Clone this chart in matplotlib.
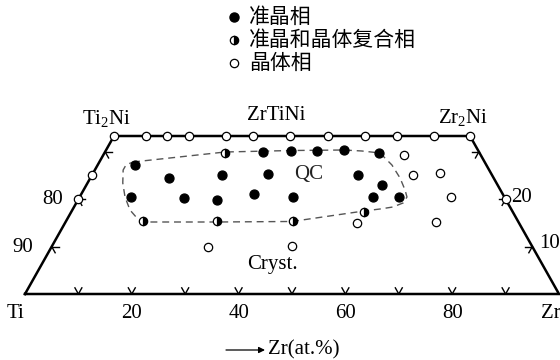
import numpy as np
import matplotlib
matplotlib.use("Agg")
import matplotlib.pyplot as plt

plt.rcParams['font.family'] = ['Liberation Serif', 'DejaVu Serif']
plt.rcParams['mathtext.fontset'] = 'custom'
plt.rcParams['mathtext.rm'] = 'Liberation Serif'

# ---- data: compositions (at.%), Zr and Ni; Ti = 100 - Zr - Ni ----
qc_zr = [7.0, 14.8, 24.3, 32.8, 29.6, 34.7, 9.7, 19.7, 26.0, 32.4, 39.9,
         39.6, 44.6, 51.5, 49.8, 55.4, 55.0, 59.8]
qc_ni = [27.2, 24.4, 25.2, 25.3, 30.0, 30.2, 20.4, 20.2, 19.8, 21.0, 20.5,
         30.2, 30.4, 29.7, 25.1, 23.0, 20.5, 20.4]

mix_zr = [22.6, 14.5, 28.3, 42.5, 54.8]
mix_ni = [29.8, 15.3, 15.3, 15.3, 17.4]

cr_zr = [0, 6, 10, 14, 21, 26, 33, 40, 47, 53, 60, 66.7,
         0, 0, 80,
         29.3, 44.9, 56.3, 60.2, 65.0, 69.5, 54.7, 69.5]
cr_ni = [33.3, 33.3, 33.3, 33.3, 33.3, 33.3, 33.3, 33.3, 33.3, 33.3, 33.3, 33.3,
         25.0, 20.0, 20.0,
         10.0, 10.1, 29.3, 25.1, 25.5, 20.5, 15.0, 15.1]

# QC region boundary (dashed)
qc_bound_zr = [6.3, 22.5, 34.7, 44.5, 48.0, 51.6, 55.1, 58.0, 60.2, 61.3, 61.2,
               59.7, 57.5, 54.7, 42.35, 28.4, 14.5, 12.95, 10.8, 8.5, 6.6, 5.3,
               5.3, 6.3]
qc_bound_ni = [27.85, 29.96, 30.27, 30.38, 30.17, 29.75, 27.22, 24.47, 21.94,
               20.46, 19.20, 18.35, 17.93, 17.51, 15.30, 15.19, 15.19, 16.03,
               17.72, 20.46, 23.42, 26.16, 27.22, 27.85]

# frame: Ti, Ti2Ni, Zr2Ni, Zr, back to Ti
frame_zr = [0, 0, 66.667, 100, 0]
frame_ni = [0, 33.333, 33.333, 0, 0]

base_ticks = [10, 20, 30, 40, 50, 60, 70, 80, 90]
side_ticks = [10, 20, 30]
base_labels = {0: 'Ti', 20: '20', 40: '40', 60: '60', 80: '80'}
left_labels = {10: '90', 20: '80'}
right_labels = {10: '10', 20: '20'}

legend_labels = ['准晶相', '准晶和晶体复合相', '晶体相']


def tern(zr, ni):
    zr = np.asarray(zr, float)
    ni = np.asarray(ni, float)
    return zr + ni / 2.0, ni


# pixel helper for placing annotations (positions only)
def px(x, y):
    return (x - 25) / 5.34, (294 - y) * 33.333 / 158


fig = plt.figure(figsize=(5.6, 3.6), dpi=100)
ax = fig.add_axes([0, 0, 1, 1])
x0, y0 = px(0, 360)
x1, y1 = px(560, 0)
ax.set_xlim(x0, x1)
ax.set_ylim(y0, y1)
ax.axis('off')

# frame
fx, fy = tern(frame_zr, frame_ni)
ax.plot(fx, fy, color='black', lw=1.8, solid_joinstyle='miter', zorder=2, clip_on=False)

# ticks
d = 1.3
for t in base_ticks:
    for zr2, ni2 in [(t, d), (t - d, d)]:
        xs, ys = tern([t, zr2], [0, ni2])
        ax.plot(xs, ys, color='black', lw=1.0, zorder=2)
for n in side_ticks:
    # left edge (Zr = 0)
    for zr2, ni2 in [(d, n), (d, n - d)]:
        xs, ys = tern([0, zr2], [n, ni2])
        ax.plot(xs, ys, color='black', lw=1.0, zorder=2)
    # right edge (Ti = 0)
    z = 100 - n
    for zr2, ni2 in [(z - d, n), (z, n - d)]:
        xs, ys = tern([z, zr2], [n, ni2])
        ax.plot(xs, ys, color='black', lw=1.0, zorder=2)

# QC boundary
bx, by = tern(qc_bound_zr, qc_bound_ni)
ax.plot(bx, by, color='#555555', lw=1.0, ls=(0, (5, 3.5)), zorder=3)

# points
x, y = tern(cr_zr, cr_ni)
ax.plot(x, y, 'o', ms=6, mfc='white', mec='black', mew=0.9, ls='none', zorder=4)
x, y = tern(mix_zr, mix_ni)
ax.plot(x, y, 'o', ms=6, fillstyle='right', mfc='black', mfcalt='white',
        mec='black', mew=0.9, ls='none', zorder=4)
x, y = tern(qc_zr, qc_ni)
ax.plot(x, y, 'o', ms=6.5, mfc='black', mec='black', mew=0.9, ls='none', zorder=4)

# labels
fs = 15
for k, s in base_labels.items():
    xx, _ = tern(k, 0)
    ax.text(xx if k else px(15, 0)[0], px(0, 313)[1], s, ha='center', va='center', fontsize=fs)
ax.text(px(541, 0)[0], px(0, 313)[1], 'Zr', ha='left', va='center', fontsize=fs)
ax.text(*px(53, 200), left_labels[20], ha='center', va='center', fontsize=fs)
ax.text(*px(23, 247), left_labels[10], ha='center', va='center', fontsize=fs)
ax.text(*px(511, 198), right_labels[20], ha='left', va='center', fontsize=fs)
ax.text(*px(539, 243), right_labels[10], ha='left', va='center', fontsize=fs)

ax.text(*px(107, 119), r'Ti$_\mathregular{2}$Ni', ha='center', va='center', fontsize=fs)
ax.text(*px(276, 116), 'ZrTiNi', ha='center', va='center', fontsize=fs)
ax.text(*px(463, 118), r'Zr$_\mathregular{2}$Ni', ha='center', va='center', fontsize=fs)

ax.text(*px(309, 175), 'QC', ha='center', va='center', fontsize=fs, color='#222222')
ax.text(*px(272, 265), 'Cryst.', ha='center', va='center', fontsize=fs)

# arrow + axis title
ax.annotate('', xy=px(265, 350), xytext=px(226, 350),
            arrowprops=dict(arrowstyle='-|>', color='black', lw=0.9,
                            mutation_scale=9, shrinkA=0, shrinkB=0))
ax.text(*px(268, 350), 'Zr(at.%)', ha='left', va='center', fontsize=fs)

# legend
cjk = ['Noto Sans CJK SC', 'DejaVu Sans']
ly = [17, 40, 63]
lx, _ = px(234, 0)
ax.plot(lx, px(0, ly[0])[1], 'o', ms=6.5, mfc='black', mec='black', clip_on=False)
ax.plot(lx, px(0, ly[1])[1], 'o', ms=6, fillstyle='right', mfc='black',
        mfcalt='white', mec='black', mew=0.9, clip_on=False)
ax.plot(lx, px(0, ly[2])[1], 'o', ms=6, mfc='white', mec='black', mew=0.9, clip_on=False)
for yy, s in zip(ly, legend_labels):
    ax.text(*px(249, yy), s, ha='left', va='center', fontsize=15, family=cjk)

fig.savefig('out.png', dpi=100)
